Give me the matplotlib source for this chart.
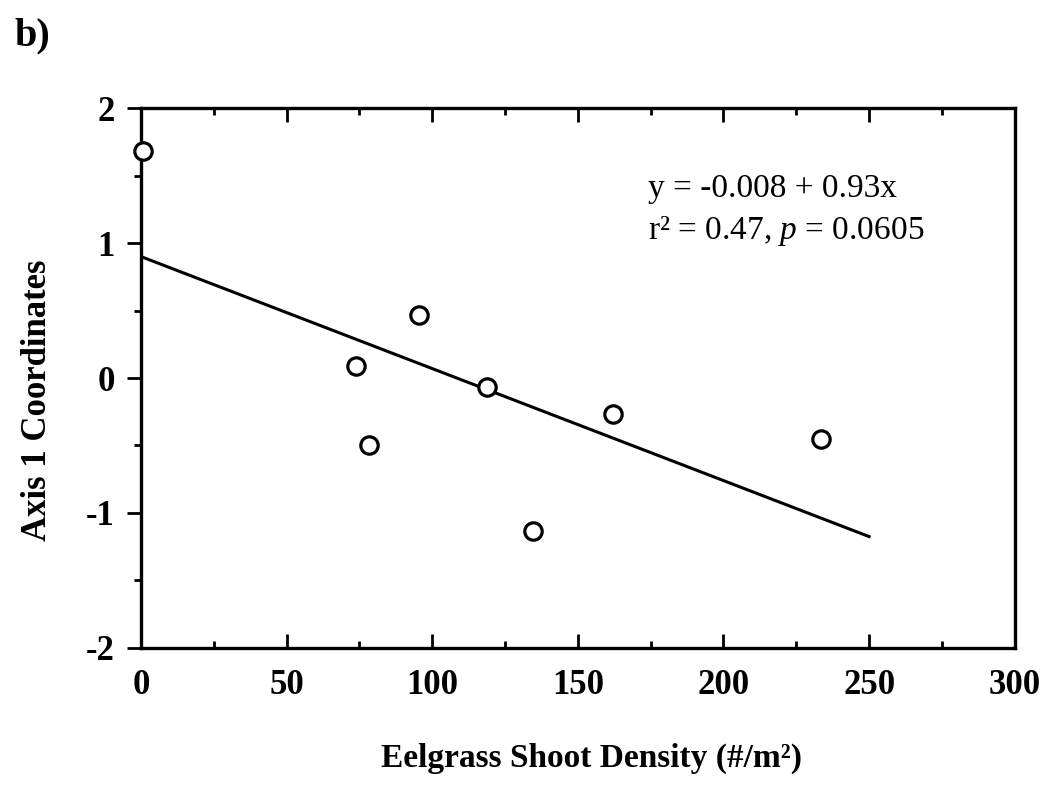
import matplotlib
matplotlib.use('Agg')
import matplotlib.pyplot as plt
from matplotlib.ticker import MultipleLocator

# Eelgrass shoot density vs. axis 1 ordination coordinates
density = [0.6, 73.7, 78.3, 95.6, 118.9, 134.5, 161.9, 233.4]
axis1 = [1.68, 0.09, -0.50, 0.47, -0.07, -1.13, -0.27, -0.45]

# fitted regression line (as drawn)
fit_intercept = 0.90
fit_slope = -0.0083
fit_x = [0, 250]

plt.rcParams['font.family'] = ['Liberation Serif', 'DejaVu Serif']
plt.rcParams['mathtext.fontset'] = 'custom'
plt.rcParams['mathtext.rm'] = 'Liberation Serif'
plt.rcParams['mathtext.it'] = 'Liberation Serif:italic'
plt.rcParams['axes.unicode_minus'] = False


def main():
    fig = plt.figure(figsize=(10.44, 7.95), dpi=100)
    ax = fig.add_axes([0.135, 0.185, 0.837, 0.679])

    fit_y = [fit_intercept + fit_slope * x for x in fit_x]
    ax.plot(fit_x, fit_y, color='black', linewidth=2.2)
    ax.plot(density, axis1, linestyle='none', marker='o', markersize=12.5,
            markerfacecolor='white', markeredgecolor='black',
            markeredgewidth=2.3, clip_on=False, zorder=5)

    ax.set_xlim(0, 300)
    ax.set_ylim(-2, 2)
    ax.xaxis.set_major_locator(MultipleLocator(50))
    ax.xaxis.set_minor_locator(MultipleLocator(25))
    ax.yaxis.set_major_locator(MultipleLocator(1))
    ax.yaxis.set_minor_locator(MultipleLocator(0.5))

    for s in ax.spines.values():
        s.set_linewidth(2.4)

    ax.tick_params(axis='x', which='both', direction='in', top=True,
                   width=2, labelsize=25, pad=15)
    ax.tick_params(axis='x', which='major', length=10)
    ax.tick_params(axis='x', which='minor', length=5)
    ax.tick_params(axis='y', which='both', direction='out', right=False,
                   width=2, labelsize=25, pad=9)
    ax.tick_params(axis='y', which='major', length=10)
    ax.tick_params(axis='y', which='minor', length=5)
    for lab in ax.get_xticklabels() + ax.get_yticklabels():
        lab.set_fontweight('bold')

    ax.set_xlabel('Eelgrass Shoot Density (#/m\u00b2)', fontsize=24,
                  fontweight='bold')
    ax.set_ylabel('Axis 1 Coordinates', fontsize=25, fontweight='bold')
    ax.xaxis.set_label_coords(0.516, -0.176)
    ax.yaxis.set_label_coords(-0.100, 0.459)

    ax.text(0.580, 0.835, 'y = -0.008 + 0.93x', transform=ax.transAxes,
            fontsize=24, va='baseline')
    ax.text(0.580, 0.758, 'r\u00b2 = 0.47, $\\mathit{p}$ = 0.0605',
            transform=ax.transAxes, fontsize=24, va='baseline')

    fig.text(0.014, 0.943, 'b)', fontsize=29, fontweight='bold')

    fig.savefig('out.png', dpi=100, facecolor='white')
    plt.close(fig)


if __name__ == '__main__':
    main()
